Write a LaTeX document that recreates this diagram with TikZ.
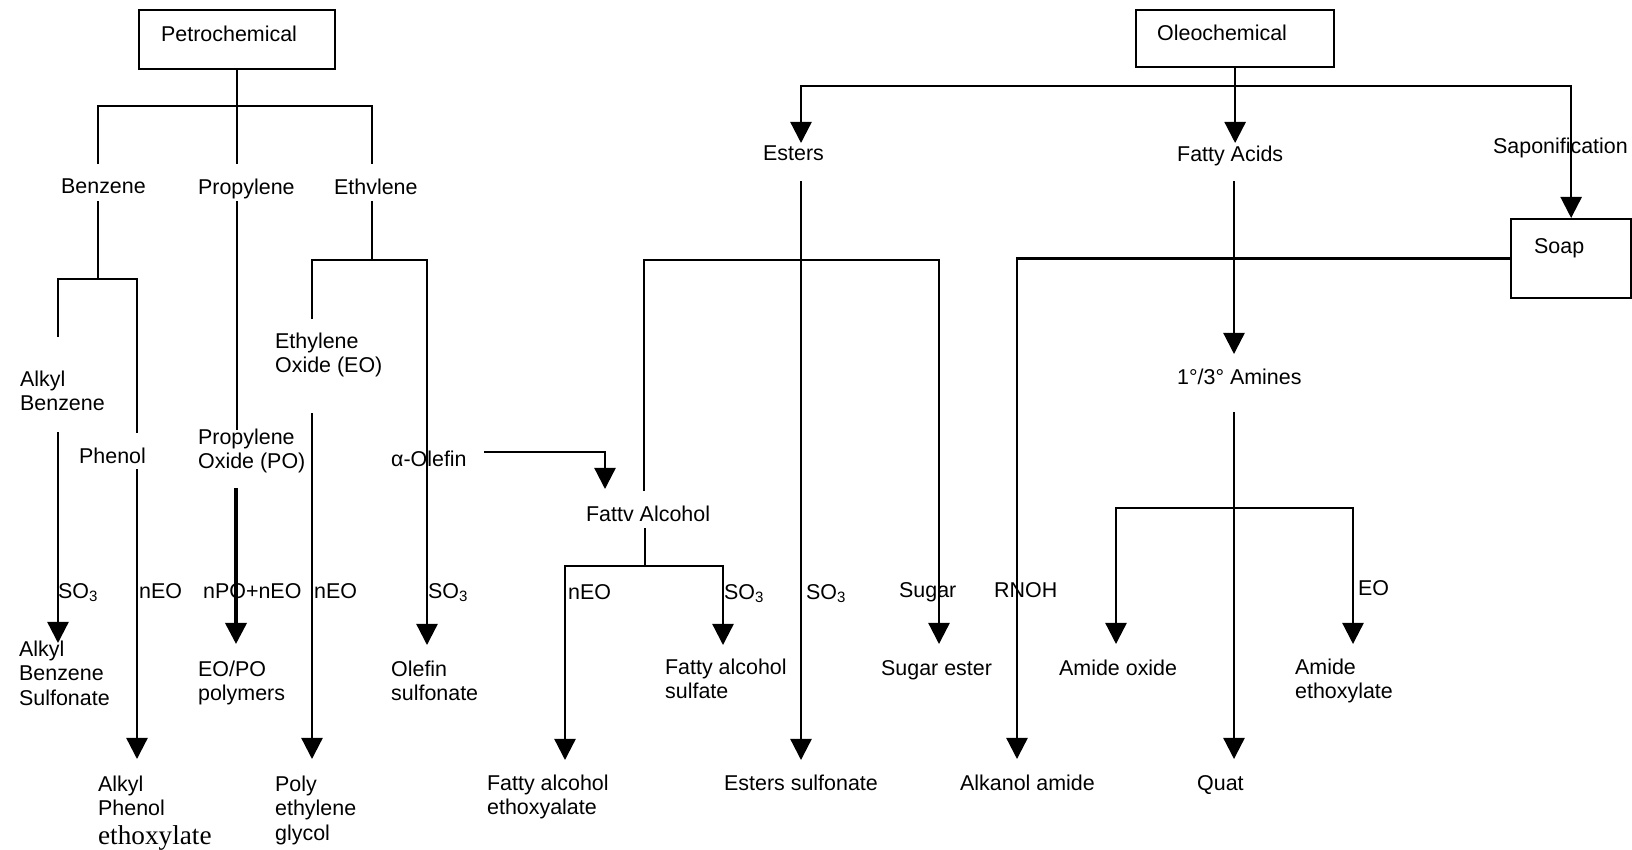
\documentclass[tikz,border=0pt]{standalone}
\usepackage{fontspec}
\setmainfont{Liberation Sans}
\newfontfamily\timesfont{Liberation Serif}
\usetikzlibrary{arrows.meta}
\newcommand{\lblfont}{\fontsize{12.2pt}{13.8pt}\selectfont}
\tikzset{
  lbl/.style={anchor=north west, inner sep=0pt, align=left, font=\lblfont},
  srcbox/.style={lbl, draw, inner ysep=0pt},
}

\begin{document}
\begin{tikzpicture}[x=0.02cm, y=-0.02cm, line width=1.3pt, >={Triangle[width=12pt,length=12pt]}]
  \useasboundingbox (0,0) rectangle (1632,849);

  % Source boxes
  \node[srcbox, text width=3.04cm, inner xsep=0.44cm, text height=0.62cm, text depth=0.56cm] (petro) at (138,9) {Petrochemical};
  \node[srcbox, text width=3.12cm, inner xsep=0.42cm, text height=0.6cm, text depth=0.54cm] (oleo) at (1135,9) {Oleochemical};
  \node[srcbox, text width=1.48cm, inner xsep=0.46cm, text height=0.68cm, text depth=0.9cm] (soap) at (1510,218) {Soap};

  % Intermediates
  \node[lbl] (benz) at (60,178) {Benzene};
  \node[lbl] (propy) at (197,178) {Propylene};
  \node[lbl] (ethy) at (333,178) {Ethvlene};
  \node[lbl] (alkbz) at (19,370) {Alkyl\\Benzene};
  \node[lbl] (phenol) at (78,447) {Phenol};
  \node[lbl] (eo) at (274,332) {Ethylene\\Oxide (EO)};
  \node[lbl] (po) at (197,428) {Propylene\\Oxide (PO)};
  \node[lbl] (olefin) at (390,450) {α-Olefin};
  \node[lbl] (fattyalc) at (585,505) {Fattv Alcohol};
  \node[lbl] (esters) at (762,145) {Esters};
  \node[lbl] (fattyac) at (1176,145) {Fatty Acids};
  \node[lbl] (sapon) at (1492,137) {Saponification};
  \node[lbl] (amines) at (1176,368) {1°/3° Amines};

  % Reagents
  \node[lbl] (rSOa) at (57,582) {SO\textsubscript{3}};
  \node[lbl] (rEOa) at (138,582) {nEO};
  \node[lbl] (rPOEO) at (202,582) {nPO+nEO};
  \node[lbl] (rEOb) at (313,582) {nEO};
  \node[lbl] (rSOb) at (427,582) {SO\textsubscript{3}};
  \node[lbl] (rEOc) at (567,583) {nEO};
  \node[lbl] (rSOc) at (723,583) {SO\textsubscript{3}};
  \node[lbl] (rSOd) at (805,583) {SO\textsubscript{3}};
  \node[lbl] (rSugar) at (898,581) {Sugar};
  \node[lbl] (rRNOH) at (993,581) {RNOH};
  \node[lbl] (rEOd) at (1357,579) {EO};

  % Products
  \node[lbl] (abs) at (18,640) {Alkyl\\Benzene\\Sulfonate};
  \node[lbl] (eopo) at (197,660) {EO/PO\\polymers};
  \node[lbl] (olsulf) at (390,660) {Olefin\\sulfonate};
  \node[lbl] (fasulf) at (664,658) {Fatty alcohol\\sulfate};
  \node[lbl] (sugest) at (880,659) {Sugar ester};
  \node[lbl] (amox) at (1058,659) {Amide oxide};
  \node[lbl] (ameth) at (1294,658) {Amide\\ethoxylate};
  \node[lbl] (ape) at (97,775) {Alkyl\\Phenol\\[2.7pt]{\timesfont\fontsize{15.5pt}{17pt}\selectfont ethoxylate}};
  \node[lbl] (peg) at (274,775) {Poly\\ethylene\\glycol};
  \node[lbl] (faeth) at (486,774) {Fatty alcohol\\ethoxyalate};
  \node[lbl] (estsulf) at (723,774) {Esters sulfonate};
  \node[lbl] (alkam) at (959,774) {Alkanol amide};
  \node[lbl] (quat) at (1196,774) {Quat};

  % Line ends and junctions
  \coordinate (pj) at (petro.south |- 0,106);
  \coordinate (benzT) at (98,164);
  \coordinate (propyT) at (pj |- 0,164);
  \coordinate (ethyT) at (372,164);
  \coordinate (benzB) at (98,201);
  \coordinate (bj) at (98,279);
  \coordinate (alkbzT) at (58,337);
  \coordinate (phenolT) at (137,433);
  \coordinate (alkbzB) at (58,432);
  \coordinate (absT) at (58,643);
  \coordinate (phenolB) at (137,469);
  \coordinate (apeT) at (137,759);
  \coordinate (propyB) at (pj |- 0,201);
  \coordinate (poT) at (pj |- 0,430);
  \coordinate (poB) at (236,488);
  \coordinate (eopoT) at (236,644);
  \coordinate (ethyB) at (372,201);
  \coordinate (ej) at (372,260);
  \coordinate (eoT) at (312,319);
  \coordinate (olsulfT) at (427,645);
  \coordinate (eoB) at (312,413);
  \coordinate (pegT) at (312,759);
  \coordinate (olefinE) at (484,452);
  \coordinate (fattyalcT) at (605,489);
  \coordinate (oj) at (oleo.south |- 0,86);
  \coordinate (estersT) at (801,143);
  \coordinate (fattyacT) at (oj |- 0,143);
  \coordinate (estersB) at (801,181);
  \coordinate (estsulfT) at (801,760);
  \coordinate (faup) at (644,491);
  \coordinate (esj) at (939,260);
  \coordinate (sugestT) at (939,644);
  \coordinate (alkamT) at (1017,759);
  \coordinate (fattyacB) at (1234,181);
  \coordinate (aminesT) at (1234,354);
  \coordinate (fattyalcB) at (645,528);
  \coordinate (faj) at (645,566);
  \coordinate (faethT) at (565,760);
  \coordinate (fasulfT) at (723,645);
  \coordinate (aminesB) at (1234,412);
  \coordinate (amj) at (1234,508);
  \coordinate (quatT) at (1234,759);
  \coordinate (amoxT) at (1116,644);
  \coordinate (amethT) at (1353,644);

  % Petrochemical tree
  \draw (petro.south) -- (pj);
  \draw (benzT) |- (pj) -| (ethyT);
  \draw (pj) -- (propyT);
  \draw (benzB) -- (bj);
  \draw (alkbzT) |- (bj) -| (phenolT);
  \draw[->] (alkbzB) -- (absT);
  \draw[->] (phenolB) -- (apeT);
  \draw (propyB) -- (poT);
  \draw[->, line width=2pt] (poB) -- (eopoT);
  \draw (ethyB) -- (ej);
  \draw[->] (eoT) |- (ej) -| (olsulfT);
  \draw[->] (eoB) -- (pegT);
  \draw[->] (olefinE) -| (fattyalcT);

  % Oleochemical tree
  \draw (oleo.south) -- (oj);
  \draw[->] (oj) -| (estersT);
  \draw[->] (oj) -- (fattyacT);
  \draw[->] (oj) -| (soap.north);
  \draw[->] (estersB) -- (estsulfT);
  \draw[->] (faup) |- (esj) -- (sugestT);
  \draw[->] (soap.west) -| (alkamT);
  \draw[->] (fattyacB) -- (aminesT);
  \draw (fattyalcB) -- (faj);
  \draw[->] (faj) -| (faethT);
  \draw[->] (faj) -| (fasulfT);
  \draw[->] (aminesB) -- (quatT);
  \draw[->] (amj) -| (amoxT);
  \draw[->] (amj) -| (amethT);
\end{tikzpicture}
\end{document}
